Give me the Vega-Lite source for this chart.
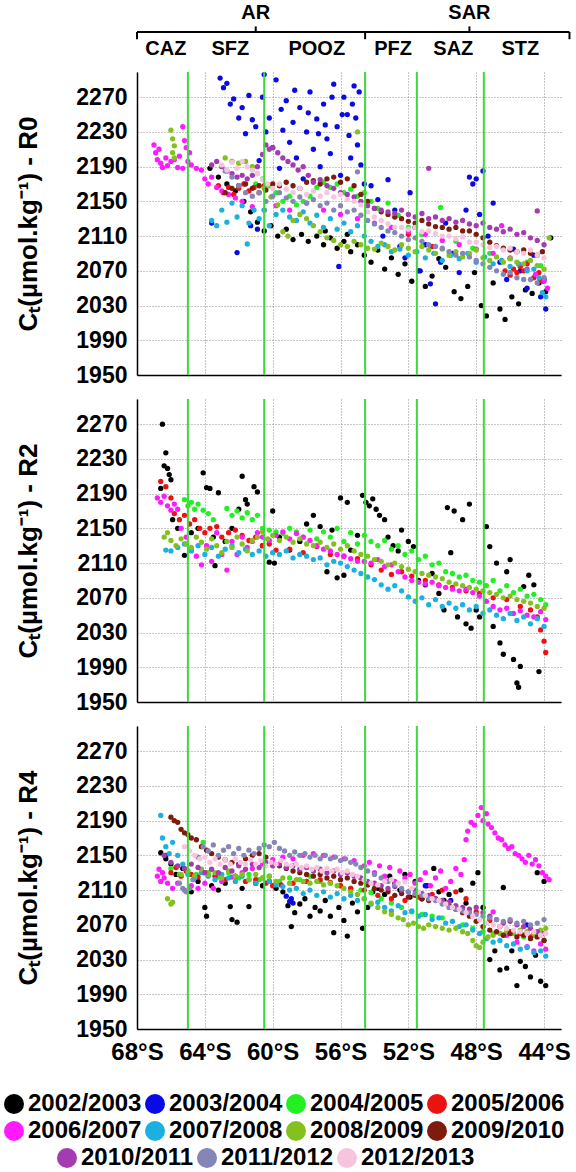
{
"$schema":"https://vega.github.io/schema/vega-lite/v6.json",
"background":"white",
"padding":{"left":2,"top":0,"right":0,"bottom":0},
"config":{"view":{"stroke":null},"font":"Liberation Sans",
"axis":{"labelFont":"Liberation Sans","titleFont":"Liberation Sans","labelColor":"black","titleColor":"black","domainColor":"black","domainWidth":1.5,"gridColor":"#8c8c8c","gridDash":[1,2],"gridWidth":1,"ticks":false,"labelFontSize":23,"labelFontWeight":"bold","titleFontSize":26,"titleFontWeight":"bold","labelOverlap":false,"labelFlush":false},
"legend":{"title":null,"orient":"none","direction":"horizontal","labelFontSize":24,"labelFontWeight":"bold","labelColor":"black","labelFont":"Liberation Sans","symbolType":"circle","symbolSize":400,"symbolStrokeWidth":0,"symbolOpacity":1,"labelOffset":2,"columnPadding":1,"rowPadding":3}},
"datasets":{
"years":[{"k":0,"season":"2002/2003"},{"k":1,"season":"2003/2004"},{"k":2,"season":"2004/2005"},{"k":3,"season":"2005/2006"},{"k":4,"season":"2006/2007"},{"k":5,"season":"2007/2008"},{"k":6,"season":"2008/2009"},{"k":7,"season":"2009/2010"},{"k":8,"season":"2010/2011"},{"k":9,"season":"2011/2012"},{"k":10,"season":"2012/2013"}],
"fronts":[{"x":65.0},{"x":60.5},{"x":54.55},{"x":51.5},{"x":47.55}],
"zones":[{"name":"CAZ","x":66.3,"t":1},{"name":"SFZ","x":62.5,"t":1},{"name":"POOZ","x":57.4,"t":1},{"name":"PFZ","x":52.9,"t":1},{"name":"SAZ","x":49.35,"t":1},{"name":"STZ","x":45.4,"t":1}],
"regions":[{"name":"AR","x":61.0,"t":3},{"name":"SAR","x":48.4,"t":3}],
"bracket":[{"x0":68,"x1":42.5,"t0":2,"t1":2},{"x0":68,"x1":68,"t0":2,"t1":1.55},{"x0":42.5,"x1":42.5,"t0":2,"t1":1.55},{"x0":54.55,"x1":54.55,"t0":2,"t1":1.55},{"x0":61.0,"x1":61.0,"t0":2,"t1":2.35},{"x0":48.4,"x1":48.4,"t0":2,"t1":2.35}],
"R0":[
{"k":0,"x":63.7,"c":2188},{"k":0,"x":63.2,"c":2178},{"k":0,"x":62.7,"c":2170},{"k":0,"x":62.2,"c":2162},{"k":0,"x":61.7,"c":2150},{"k":0,"x":61.3,"c":2138},{"k":0,"x":60.9,"c":2126},{"k":0,"x":60.5,"c":2116},{"k":0,"x":60.1,"c":2122},{"k":0,"x":59.7,"c":2110},{"k":0,"x":59.2,"c":2118},{"k":0,"x":58.8,"c":2106},{"k":0,"x":58.3,"c":2112},{"k":0,"x":57.9,"c":2104},{"k":0,"x":57.4,"c":2110},{"k":0,"x":57.0,"c":2100},{"k":0,"x":56.9,"c":2116},{"k":0,"x":56.6,"c":2108},{"k":0,"x":56.2,"c":2096},{"k":0,"x":55.8,"c":2104},{"k":0,"x":55.6,"c":2112},{"k":0,"x":55.4,"c":2092},{"k":0,"x":55.0,"c":2100},{"k":0,"x":54.6,"c":2088},{"k":0,"x":54.2,"c":2080},{"k":0,"x":53.8,"c":2094},{"k":0,"x":53.4,"c":2072},{"k":0,"x":53.0,"c":2085},{"k":0,"x":52.6,"c":2066},{"k":0,"x":52.2,"c":2078},{"k":0,"x":51.8,"c":2058},{"k":0,"x":51.4,"c":2070},{"k":0,"x":51.0,"c":2052},{"k":0,"x":50.6,"c":2064},{"k":0,"x":50.2,"c":2084},{"k":0,"x":49.8,"c":2074},{"k":0,"x":49.3,"c":2046},{"k":0,"x":48.9,"c":2038},{"k":0,"x":48.5,"c":2052},{"k":0,"x":48.1,"c":2068},{"k":0,"x":47.7,"c":2030},{"k":0,"x":47.4,"c":2018},{"k":0,"x":47.0,"c":2056},{"k":0,"x":46.6,"c":2026},{"k":0,"x":46.3,"c":2014},{"k":0,"x":45.9,"c":2040},{"k":0,"x":45.5,"c":2032},{"k":0,"x":45.1,"c":2048},{"k":0,"x":44.7,"c":2044},{"k":0,"x":44.3,"c":2056},{"k":0,"x":43.9,"c":2046},{"k":0,"x":43.6,"c":2108},
{"k":1,"x":63.6,"c":2125},{"k":1,"x":63.1,"c":2292},{"k":1,"x":62.9,"c":2281},{"k":1,"x":62.7,"c":2286},{"k":1,"x":62.5,"c":2262},{"k":1,"x":62.3,"c":2268},{"k":1,"x":62.1,"c":2091},{"k":1,"x":62.0,"c":2246},{"k":1,"x":61.8,"c":2258},{"k":1,"x":61.6,"c":2228},{"k":1,"x":61.4,"c":2272},{"k":1,"x":61.3,"c":2122},{"k":1,"x":61.2,"c":2244},{"k":1,"x":61.0,"c":2236},{"k":1,"x":60.9,"c":2118},{"k":1,"x":60.8,"c":2197},{"k":1,"x":60.6,"c":2270},{"k":1,"x":60.5,"c":2296},{"k":1,"x":60.4,"c":2230},{"k":1,"x":60.2,"c":2246},{"k":1,"x":60.0,"c":2212},{"k":1,"x":59.8,"c":2290},{"k":1,"x":59.6,"c":2188},{"k":1,"x":59.5,"c":2256},{"k":1,"x":59.4,"c":2232},{"k":1,"x":59.2,"c":2266},{"k":1,"x":59.0,"c":2218},{"k":1,"x":58.8,"c":2241},{"k":1,"x":58.7,"c":2278},{"k":1,"x":58.6,"c":2200},{"k":1,"x":58.4,"c":2258},{"k":1,"x":58.2,"c":2176},{"k":1,"x":58.0,"c":2230},{"k":1,"x":57.9,"c":2252},{"k":1,"x":57.8,"c":2276},{"k":1,"x":57.6,"c":2210},{"k":1,"x":57.4,"c":2245},{"k":1,"x":57.3,"c":2228},{"k":1,"x":57.2,"c":2190},{"k":1,"x":57.0,"c":2262},{"k":1,"x":56.9,"c":2238},{"k":1,"x":56.8,"c":2222},{"k":1,"x":56.6,"c":2205},{"k":1,"x":56.5,"c":2270},{"k":1,"x":56.4,"c":2285},{"k":1,"x":56.2,"c":2236},{"k":1,"x":56.1,"c":2075},{"k":1,"x":56.0,"c":2180},{"k":1,"x":55.9,"c":2250},{"k":1,"x":55.8,"c":2270},{"k":1,"x":55.6,"c":2250},{"k":1,"x":55.5,"c":2226},{"k":1,"x":55.4,"c":2200},{"k":1,"x":55.3,"c":2262},{"k":1,"x":55.2,"c":2283},{"k":1,"x":55.1,"c":2246},{"k":1,"x":55.0,"c":2215},{"k":1,"x":54.9,"c":2276},{"k":1,"x":54.8,"c":2192},{"k":1,"x":54.6,"c":2170},{"k":1,"x":54.2,"c":2168},{"k":1,"x":53.8,"c":2152},{"k":1,"x":53.5,"c":2110},{"k":1,"x":53.2,"c":2175},{"k":1,"x":52.8,"c":2140},{"k":1,"x":52.5,"c":2098},{"k":1,"x":52.2,"c":2085},{"k":1,"x":51.9,"c":2160},{"k":1,"x":51.6,"c":2120},{"k":1,"x":51.3,"c":2070},{"k":1,"x":51.0,"c":2100},{"k":1,"x":50.7,"c":2055},{"k":1,"x":50.4,"c":2032},{"k":1,"x":50.1,"c":2080},{"k":1,"x":49.8,"c":2125},{"k":1,"x":49.4,"c":2090},{"k":1,"x":49.0,"c":2068},{"k":1,"x":48.6,"c":2140},{"k":1,"x":48.4,"c":2178},{"k":1,"x":48.2,"c":2170},{"k":1,"x":48.0,"c":2176},{"k":1,"x":47.8,"c":2135},{"k":1,"x":47.6,"c":2185},{"k":1,"x":47.3,"c":2110},{"k":1,"x":47.0,"c":2148},{"k":1,"x":46.6,"c":2080},{"k":1,"x":46.2,"c":2060},{"k":1,"x":45.8,"c":2095},{"k":1,"x":45.4,"c":2070},{"k":1,"x":45.0,"c":2050},{"k":1,"x":44.6,"c":2088},{"k":1,"x":44.2,"c":2040},{"k":1,"x":44.0,"c":2060},{"k":1,"x":43.9,"c":2026},
{"k":2,"x":61.0,"c":2170},{"k":2,"x":60.6,"c":2176},{"k":2,"x":60.2,"c":2168},{"k":2,"x":59.8,"c":2160},{"k":2,"x":59.4,"c":2150},{"k":2,"x":59.0,"c":2156},{"k":2,"x":58.6,"c":2146},{"k":2,"x":58.2,"c":2150},{"k":2,"x":57.8,"c":2156},{"k":2,"x":57.4,"c":2166},{"k":2,"x":57.0,"c":2172},{"k":2,"x":56.6,"c":2166},{"k":2,"x":56.2,"c":2170},{"k":2,"x":55.8,"c":2160},{"k":2,"x":55.4,"c":2164},{"k":2,"x":55.0,"c":2156},{"k":2,"x":54.6,"c":2160},{"k":2,"x":54.2,"c":2150},{"k":2,"x":53.8,"c":2142},{"k":2,"x":53.2,"c":2148},{"k":2,"x":52.6,"c":2134},{"k":2,"x":52.0,"c":2120},{"k":2,"x":51.2,"c":2112},{"k":2,"x":50.1,"c":2143},{"k":2,"x":49.2,"c":2104},{"k":2,"x":48.2,"c":2096},{"k":2,"x":47.2,"c":2090},{"k":2,"x":46.0,"c":2084},{"k":2,"x":45.0,"c":2080},{"k":2,"x":44.2,"c":2076},
{"k":3,"x":63.2,"c":2168},{"k":3,"x":62.9,"c":2160},{"k":3,"x":62.6,"c":2166},{"k":3,"x":62.3,"c":2158},{"k":3,"x":62.0,"c":2165},{"k":3,"x":61.7,"c":2170},{"k":3,"x":61.4,"c":2162},{"k":3,"x":61.1,"c":2166},{"k":3,"x":60.8,"c":2160},{"k":3,"x":60.5,"c":2168},{"k":3,"x":52.0,"c":2112},{"k":3,"x":50.6,"c":2098},{"k":3,"x":46.3,"c":2070},{"k":3,"x":46.0,"c":2065},{"k":3,"x":45.8,"c":2072},{"k":3,"x":45.6,"c":2068},{"k":3,"x":45.4,"c":2075},{"k":3,"x":45.2,"c":2070},{"k":3,"x":45.0,"c":2078},{"k":3,"x":44.6,"c":2062},{"k":3,"x":44.3,"c":2068},{"k":3,"x":44.1,"c":2058},
{"k":4,"x":67.0,"c":2215},{"k":4,"x":66.9,"c":2206},{"k":4,"x":66.8,"c":2198},{"k":4,"x":66.7,"c":2210},{"k":4,"x":66.6,"c":2194},{"k":4,"x":66.5,"c":2189},{"k":4,"x":66.3,"c":2200},{"k":4,"x":66.2,"c":2191},{"k":4,"x":66.0,"c":2196},{"k":4,"x":65.8,"c":2198},{"k":4,"x":65.6,"c":2189},{"k":4,"x":65.5,"c":2202},{"k":4,"x":65.3,"c":2236},{"k":4,"x":65.3,"c":2188},{"k":4,"x":65.2,"c":2220},{"k":4,"x":65.1,"c":2212},{"k":4,"x":65.0,"c":2196},{"k":4,"x":64.9,"c":2206},{"k":4,"x":64.8,"c":2192},{"k":4,"x":64.5,"c":2188},{"k":4,"x":64.2,"c":2186},{"k":4,"x":64.0,"c":2176},{"k":4,"x":63.8,"c":2170},{"k":4,"x":63.6,"c":2178},{"k":4,"x":63.3,"c":2166},{"k":4,"x":63.0,"c":2162},{"k":4,"x":62.6,"c":2158},{"k":4,"x":62.2,"c":2154},{"k":4,"x":61.8,"c":2150},{"k":4,"x":61.2,"c":2144},{"k":4,"x":60.5,"c":2140},{"k":4,"x":59.8,"c":2145},{"k":4,"x":59.0,"c":2140},{"k":4,"x":58.0,"c":2148},{"k":4,"x":57.0,"c":2140},{"k":4,"x":56.0,"c":2135},{"k":4,"x":55.0,"c":2130},{"k":4,"x":54.0,"c":2125},{"k":4,"x":53.0,"c":2120},{"k":4,"x":52.0,"c":2115},{"k":4,"x":51.0,"c":2112},{"k":4,"x":50.0,"c":2105},{"k":4,"x":49.0,"c":2100},{"k":4,"x":48.0,"c":2095},{"k":4,"x":47.0,"c":2090},{"k":4,"x":46.5,"c":2122},{"k":4,"x":46.0,"c":2085},{"k":4,"x":45.5,"c":2078},{"k":4,"x":45.0,"c":2072},{"k":4,"x":44.5,"c":2066},{"k":4,"x":44.0,"c":2058},{"k":4,"x":43.8,"c":2050},
{"k":5,"x":63.6,"c":2128},{"k":5,"x":63.3,"c":2122},{"k":5,"x":63.0,"c":2140},{"k":5,"x":62.7,"c":2126},{"k":5,"x":62.4,"c":2148},{"k":5,"x":62.1,"c":2132},{"k":5,"x":61.8,"c":2145},{"k":5,"x":61.5,"c":2101},{"k":5,"x":61.4,"c":2125},{"k":5,"x":61.1,"c":2140},{"k":5,"x":60.8,"c":2130},{"k":5,"x":60.5,"c":2140},{"k":5,"x":60.2,"c":2122},{"k":5,"x":59.8,"c":2135},{"k":5,"x":59.4,"c":2140},{"k":5,"x":59.0,"c":2132},{"k":5,"x":58.6,"c":2128},{"k":5,"x":58.2,"c":2138},{"k":5,"x":57.8,"c":2125},{"k":5,"x":57.4,"c":2134},{"k":5,"x":57.0,"c":2120},{"k":5,"x":56.6,"c":2130},{"k":5,"x":56.2,"c":2118},{"k":5,"x":55.8,"c":2125},{"k":5,"x":55.4,"c":2115},{"k":5,"x":55.0,"c":2122},{"k":5,"x":54.6,"c":2110},{"k":5,"x":54.2,"c":2104},{"k":5,"x":53.8,"c":2098},{"k":5,"x":53.4,"c":2100},{"k":5,"x":53.0,"c":2092},{"k":5,"x":52.5,"c":2095},{"k":5,"x":52.0,"c":2088},{"k":5,"x":51.5,"c":2092},{"k":5,"x":51.0,"c":2085},{"k":5,"x":50.5,"c":2090},{"k":5,"x":50.0,"c":2082},{"k":5,"x":49.5,"c":2088},{"k":5,"x":49.0,"c":2084},{"k":5,"x":48.5,"c":2090},{"k":5,"x":48.0,"c":2080},{"k":5,"x":47.5,"c":2086},{"k":5,"x":47.0,"c":2078},{"k":5,"x":46.5,"c":2082},{"k":5,"x":46.0,"c":2075},{"k":5,"x":45.5,"c":2078},{"k":5,"x":45.0,"c":2070},{"k":5,"x":44.6,"c":2072},{"k":5,"x":44.3,"c":2062},{"k":5,"x":44.1,"c":2045},{"k":5,"x":43.9,"c":2040},
{"k":6,"x":66.0,"c":2232},{"k":6,"x":65.9,"c":2222},{"k":6,"x":65.9,"c":2206},{"k":6,"x":65.8,"c":2214},{"k":6,"x":65.8,"c":2200},{"k":6,"x":62.8,"c":2200},{"k":6,"x":62.4,"c":2196},{"k":6,"x":62.0,"c":2194},{"k":6,"x":61.6,"c":2196},{"k":6,"x":61.2,"c":2190},{"k":6,"x":60.9,"c":2182},{"k":6,"x":60.5,"c":2165},{"k":6,"x":60.1,"c":2155},{"k":6,"x":59.7,"c":2146},{"k":6,"x":59.4,"c":2115},{"k":6,"x":59.1,"c":2110},{"k":6,"x":58.8,"c":2128},{"k":6,"x":58.4,"c":2135},{"k":6,"x":58.0,"c":2130},{"k":6,"x":57.6,"c":2122},{"k":6,"x":57.2,"c":2115},{"k":6,"x":56.8,"c":2108},{"k":6,"x":56.4,"c":2105},{"k":6,"x":56.0,"c":2100},{"k":6,"x":55.6,"c":2098},{"k":6,"x":55.2,"c":2104},{"k":6,"x":55.0,"c":2230},{"k":6,"x":54.8,"c":2100},{"k":6,"x":54.4,"c":2096},{"k":6,"x":54.0,"c":2095},{"k":6,"x":53.6,"c":2102},{"k":6,"x":53.2,"c":2098},{"k":6,"x":52.8,"c":2094},{"k":6,"x":52.4,"c":2100},{"k":6,"x":52.0,"c":2096},{"k":6,"x":51.6,"c":2092},{"k":6,"x":51.2,"c":2098},{"k":6,"x":50.8,"c":2094},{"k":6,"x":50.4,"c":2090},{"k":6,"x":50.0,"c":2095},{"k":6,"x":49.6,"c":2088},{"k":6,"x":49.2,"c":2092},{"k":6,"x":48.8,"c":2086},{"k":6,"x":48.4,"c":2090},{"k":6,"x":48.0,"c":2094},{"k":6,"x":47.6,"c":2085},{"k":6,"x":47.2,"c":2082},{"k":6,"x":46.8,"c":2086},{"k":6,"x":46.4,"c":2080},{"k":6,"x":46.0,"c":2084},{"k":6,"x":45.6,"c":2080},{"k":6,"x":45.2,"c":2078},{"k":6,"x":44.8,"c":2082},{"k":6,"x":44.4,"c":2076},{"k":6,"x":44.0,"c":2072},{"k":6,"x":43.7,"c":2108},
{"k":7,"x":62.8,"c":2160},{"k":7,"x":62.4,"c":2165},{"k":7,"x":62.0,"c":2168},{"k":7,"x":61.6,"c":2170},{"k":7,"x":61.2,"c":2165},{"k":7,"x":60.8,"c":2168},{"k":7,"x":60.4,"c":2163},{"k":7,"x":60.0,"c":2170},{"k":7,"x":59.6,"c":2168},{"k":7,"x":59.2,"c":2172},{"k":7,"x":58.8,"c":2168},{"k":7,"x":58.4,"c":2165},{"k":7,"x":58.0,"c":2172},{"k":7,"x":57.6,"c":2174},{"k":7,"x":57.2,"c":2170},{"k":7,"x":56.8,"c":2176},{"k":7,"x":56.4,"c":2178},{"k":7,"x":56.0,"c":2172},{"k":7,"x":55.6,"c":2176},{"k":7,"x":55.2,"c":2168},{"k":7,"x":54.8,"c":2158},{"k":7,"x":54.4,"c":2150},{"k":7,"x":54.0,"c":2142},{"k":7,"x":53.6,"c":2138},{"k":7,"x":53.2,"c":2135},{"k":7,"x":52.8,"c":2132},{"k":7,"x":52.4,"c":2130},{"k":7,"x":52.0,"c":2127},{"k":7,"x":51.6,"c":2125},{"k":7,"x":51.2,"c":2128},{"k":7,"x":50.8,"c":2124},{"k":7,"x":50.4,"c":2121},{"k":7,"x":50.0,"c":2120},{"k":7,"x":49.6,"c":2118},{"k":7,"x":49.2,"c":2120},{"k":7,"x":48.8,"c":2116},{"k":7,"x":48.4,"c":2116},{"k":7,"x":48.0,"c":2112},{"k":7,"x":47.6,"c":2108},{"k":7,"x":47.2,"c":2103},{"k":7,"x":46.8,"c":2099},{"k":7,"x":46.4,"c":2096},{"k":7,"x":46.0,"c":2094},{"k":7,"x":45.6,"c":2092},{"k":7,"x":45.2,"c":2094},{"k":7,"x":44.8,"c":2090},{"k":7,"x":44.4,"c":2088},{"k":7,"x":44.1,"c":2092},
{"k":8,"x":63.6,"c":2192},{"k":8,"x":63.3,"c":2196},{"k":8,"x":63.0,"c":2190},{"k":8,"x":62.7,"c":2185},{"k":8,"x":62.4,"c":2182},{"k":8,"x":62.1,"c":2178},{"k":8,"x":61.8,"c":2180},{"k":8,"x":61.5,"c":2176},{"k":8,"x":61.2,"c":2180},{"k":8,"x":60.9,"c":2190},{"k":8,"x":60.6,"c":2204},{"k":8,"x":60.4,"c":2215},{"k":8,"x":60.2,"c":2210},{"k":8,"x":60.0,"c":2212},{"k":8,"x":59.7,"c":2206},{"k":8,"x":59.4,"c":2200},{"k":8,"x":59.1,"c":2196},{"k":8,"x":58.8,"c":2192},{"k":8,"x":58.5,"c":2186},{"k":8,"x":58.2,"c":2190},{"k":8,"x":57.9,"c":2180},{"k":8,"x":57.6,"c":2172},{"k":8,"x":57.2,"c":2175},{"k":8,"x":56.8,"c":2168},{"k":8,"x":56.4,"c":2165},{"k":8,"x":56.0,"c":2160},{"k":8,"x":55.6,"c":2158},{"k":8,"x":55.2,"c":2155},{"k":8,"x":54.8,"c":2150},{"k":8,"x":54.4,"c":2145},{"k":8,"x":54.0,"c":2142},{"k":8,"x":53.6,"c":2140},{"k":8,"x":53.2,"c":2138},{"k":8,"x":52.8,"c":2136},{"k":8,"x":52.4,"c":2140},{"k":8,"x":52.0,"c":2135},{"k":8,"x":51.6,"c":2132},{"k":8,"x":51.2,"c":2136},{"k":8,"x":50.8,"c":2188},{"k":8,"x":50.8,"c":2130},{"k":8,"x":50.4,"c":2132},{"k":8,"x":50.0,"c":2128},{"k":8,"x":49.6,"c":2130},{"k":8,"x":49.2,"c":2126},{"k":8,"x":48.8,"c":2128},{"k":8,"x":48.4,"c":2124},{"k":8,"x":48.0,"c":2122},{"k":8,"x":47.6,"c":2125},{"k":8,"x":47.2,"c":2120},{"k":8,"x":46.8,"c":2118},{"k":8,"x":46.4,"c":2115},{"k":8,"x":46.0,"c":2118},{"k":8,"x":45.6,"c":2112},{"k":8,"x":45.2,"c":2114},{"k":8,"x":44.8,"c":2108},{"k":8,"x":44.4,"c":2139},{"k":8,"x":44.4,"c":2105},{"k":8,"x":44.0,"c":2100},
{"k":9,"x":62.8,"c":2185},{"k":9,"x":62.4,"c":2178},{"k":9,"x":62.0,"c":2168},{"k":9,"x":61.6,"c":2160},{"k":9,"x":61.2,"c":2156},{"k":9,"x":60.8,"c":2160},{"k":9,"x":60.4,"c":2150},{"k":9,"x":60.0,"c":2156},{"k":9,"x":59.6,"c":2160},{"k":9,"x":59.2,"c":2154},{"k":9,"x":58.8,"c":2150},{"k":9,"x":58.4,"c":2155},{"k":9,"x":58.0,"c":2148},{"k":9,"x":57.6,"c":2152},{"k":9,"x":57.2,"c":2145},{"k":9,"x":56.8,"c":2148},{"k":9,"x":56.4,"c":2140},{"k":9,"x":56.0,"c":2145},{"k":9,"x":55.6,"c":2138},{"k":9,"x":55.2,"c":2140},{"k":9,"x":55.0,"c":2184},{"k":9,"x":54.8,"c":2134},{"k":9,"x":54.4,"c":2128},{"k":9,"x":54.0,"c":2124},{"k":9,"x":53.6,"c":2120},{"k":9,"x":53.2,"c":2116},{"k":9,"x":52.8,"c":2114},{"k":9,"x":52.4,"c":2110},{"k":9,"x":52.0,"c":2106},{"k":9,"x":51.6,"c":2108},{"k":9,"x":51.2,"c":2104},{"k":9,"x":50.8,"c":2100},{"k":9,"x":50.4,"c":2098},{"k":9,"x":50.0,"c":2096},{"k":9,"x":49.6,"c":2092},{"k":9,"x":49.2,"c":2088},{"k":9,"x":48.8,"c":2090},{"k":9,"x":48.4,"c":2086},{"k":9,"x":48.0,"c":2082},{"k":9,"x":47.6,"c":2078},{"k":9,"x":47.2,"c":2074},{"k":9,"x":46.8,"c":2070},{"k":9,"x":46.4,"c":2066},{"k":9,"x":46.0,"c":2068},{"k":9,"x":45.6,"c":2062},{"k":9,"x":45.2,"c":2060},{"k":9,"x":44.8,"c":2060},{"k":9,"x":44.4,"c":2056},{"k":9,"x":44.0,"c":2062},
{"k":10,"x":63.0,"c":2192},{"k":10,"x":62.7,"c":2186},{"k":10,"x":62.4,"c":2195},{"k":10,"x":62.1,"c":2188},{"k":10,"x":61.8,"c":2196},{"k":10,"x":61.5,"c":2190},{"k":10,"x":61.2,"c":2186},{"k":10,"x":60.9,"c":2182},{"k":10,"x":60.6,"c":2175},{"k":10,"x":60.3,"c":2170},{"k":10,"x":60.0,"c":2165},{"k":10,"x":59.6,"c":2170},{"k":10,"x":59.2,"c":2164},{"k":10,"x":58.8,"c":2160},{"k":10,"x":58.4,"c":2165},{"k":10,"x":58.0,"c":2158},{"k":10,"x":57.6,"c":2162},{"k":10,"x":57.2,"c":2156},{"k":10,"x":56.8,"c":2160},{"k":10,"x":56.4,"c":2155},{"k":10,"x":56.0,"c":2158},{"k":10,"x":55.6,"c":2152},{"k":10,"x":55.2,"c":2150},{"k":10,"x":54.8,"c":2146},{"k":10,"x":54.4,"c":2138},{"k":10,"x":54.0,"c":2132},{"k":10,"x":53.6,"c":2128},{"k":10,"x":53.2,"c":2124},{"k":10,"x":52.8,"c":2120},{"k":10,"x":52.4,"c":2120},{"k":10,"x":52.0,"c":2118},{"k":10,"x":51.6,"c":2120},{"k":10,"x":51.2,"c":2115},{"k":10,"x":50.8,"c":2116},{"k":10,"x":50.4,"c":2113},{"k":10,"x":50.0,"c":2110},{"k":10,"x":49.6,"c":2110},{"k":10,"x":49.2,"c":2107},{"k":10,"x":48.8,"c":2109},{"k":10,"x":48.4,"c":2103},{"k":10,"x":48.0,"c":2103},{"k":10,"x":47.6,"c":2100},{"k":10,"x":47.2,"c":2097},{"k":10,"x":46.8,"c":2098},{"k":10,"x":46.4,"c":2094},{"k":10,"x":46.0,"c":2096},{"k":10,"x":45.6,"c":2092},{"k":10,"x":45.2,"c":2090},{"k":10,"x":44.8,"c":2094},{"k":10,"x":44.4,"c":2088},{"k":10,"x":44.0,"c":2085}
],
"R2":[
{"k":0,"x":66.5,"c":2270},{"k":0,"x":66.4,"c":2222},{"k":0,"x":66.3,"c":2237},{"k":0,"x":66.2,"c":2219},{"k":0,"x":66.1,"c":2212},{"k":0,"x":66.0,"c":2206},{"k":0,"x":66.6,"c":2196},{"k":0,"x":65.9,"c":2160},{"k":0,"x":65.6,"c":2150},{"k":0,"x":65.2,"c":2119},{"k":0,"x":64.8,"c":2145},{"k":0,"x":64.4,"c":2150},{"k":0,"x":64.1,"c":2214},{"k":0,"x":63.9,"c":2197},{"k":0,"x":63.7,"c":2196},{"k":0,"x":63.5,"c":2140},{"k":0,"x":63.4,"c":2107},{"k":0,"x":63.2,"c":2191},{"k":0,"x":62.8,"c":2135},{"k":0,"x":62.4,"c":2150},{"k":0,"x":62.0,"c":2172},{"k":0,"x":61.8,"c":2210},{"k":0,"x":61.6,"c":2183},{"k":0,"x":61.5,"c":2178},{"k":0,"x":61.1,"c":2198},{"k":0,"x":60.9,"c":2192},{"k":0,"x":60.6,"c":2130},{"k":0,"x":60.2,"c":2111},{"k":0,"x":60.0,"c":2170},{"k":0,"x":59.9,"c":2110},{"k":0,"x":59.6,"c":2140},{"k":0,"x":59.0,"c":2125},{"k":0,"x":58.4,"c":2135},{"k":0,"x":58.0,"c":2155},{"k":0,"x":57.6,"c":2165},{"k":0,"x":57.2,"c":2152},{"k":0,"x":56.8,"c":2100},{"k":0,"x":56.5,"c":2148},{"k":0,"x":56.2,"c":2093},{"k":0,"x":56.0,"c":2185},{"k":0,"x":55.8,"c":2096},{"k":0,"x":55.6,"c":2180},{"k":0,"x":55.4,"c":2125},{"k":0,"x":55.0,"c":2142},{"k":0,"x":54.7,"c":2188},{"k":0,"x":54.5,"c":2180},{"k":0,"x":54.3,"c":2176},{"k":0,"x":54.1,"c":2184},{"k":0,"x":53.9,"c":2172},{"k":0,"x":53.7,"c":2165},{"k":0,"x":53.4,"c":2160},{"k":0,"x":53.2,"c":2140},{"k":0,"x":52.9,"c":2130},{"k":0,"x":52.6,"c":2124},{"k":0,"x":52.4,"c":2148},{"k":0,"x":52.0,"c":2135},{"k":0,"x":51.7,"c":2129},{"k":0,"x":51.4,"c":2090},{"k":0,"x":51.0,"c":2085},{"k":0,"x":50.6,"c":2098},{"k":0,"x":50.2,"c":2075},{"k":0,"x":49.9,"c":2056},{"k":0,"x":49.7,"c":2174},{"k":0,"x":49.5,"c":2122},{"k":0,"x":49.3,"c":2170},{"k":0,"x":49.1,"c":2048},{"k":0,"x":48.8,"c":2160},{"k":0,"x":48.6,"c":2040},{"k":0,"x":48.4,"c":2178},{"k":0,"x":48.3,"c":2035},{"k":0,"x":48.0,"c":2056},{"k":0,"x":47.8,"c":2048},{"k":0,"x":47.4,"c":2152},{"k":0,"x":47.2,"c":2129},{"k":0,"x":47.0,"c":2037},{"k":0,"x":46.8,"c":2110},{"k":0,"x":46.6,"c":2018},{"k":0,"x":46.4,"c":2005},{"k":0,"x":46.2,"c":2100},{"k":0,"x":46.0,"c":2114},{"k":0,"x":45.8,"c":1999},{"k":0,"x":45.6,"c":1972},{"k":0,"x":45.5,"c":1967},{"k":0,"x":45.4,"c":1991},{"k":0,"x":45.2,"c":2083},{"k":0,"x":44.9,"c":2096},{"k":0,"x":44.6,"c":2085},{"k":0,"x":44.3,"c":1985},
{"k":2,"x":65.2,"c":2183},{"k":2,"x":65.0,"c":2176},{"k":2,"x":64.8,"c":2180},{"k":2,"x":64.6,"c":2172},{"k":2,"x":64.4,"c":2178},{"k":2,"x":64.1,"c":2171},{"k":2,"x":63.8,"c":2167},{"k":2,"x":63.5,"c":2160},{"k":2,"x":62.7,"c":2173},{"k":2,"x":62.4,"c":2165},{"k":2,"x":62.1,"c":2170},{"k":2,"x":61.8,"c":2162},{"k":2,"x":61.5,"c":2168},{"k":2,"x":61.2,"c":2160},{"k":2,"x":60.9,"c":2165},{"k":2,"x":60.6,"c":2150},{"k":2,"x":60.2,"c":2148},{"k":2,"x":59.8,"c":2146},{"k":2,"x":59.4,"c":2144},{"k":2,"x":59.0,"c":2150},{"k":2,"x":58.6,"c":2146},{"k":2,"x":58.2,"c":2140},{"k":2,"x":57.8,"c":2148},{"k":2,"x":57.4,"c":2138},{"k":2,"x":57.0,"c":2146},{"k":2,"x":56.6,"c":2140},{"k":2,"x":56.2,"c":2150},{"k":2,"x":55.8,"c":2135},{"k":2,"x":55.4,"c":2145},{"k":2,"x":55.0,"c":2132},{"k":2,"x":54.6,"c":2142},{"k":2,"x":54.2,"c":2135},{"k":2,"x":53.8,"c":2130},{"k":2,"x":53.4,"c":2136},{"k":2,"x":53.0,"c":2126},{"k":2,"x":52.6,"c":2130},{"k":2,"x":52.2,"c":2120},{"k":2,"x":51.8,"c":2124},{"k":2,"x":51.4,"c":2114},{"k":2,"x":51.0,"c":2118},{"k":2,"x":50.6,"c":2108},{"k":2,"x":50.2,"c":2110},{"k":2,"x":49.8,"c":2100},{"k":2,"x":49.4,"c":2098},{"k":2,"x":49.0,"c":2094},{"k":2,"x":48.6,"c":2096},{"k":2,"x":48.2,"c":2090},{"k":2,"x":47.8,"c":2088},{"k":2,"x":47.4,"c":2084},{"k":2,"x":47.0,"c":2090},{"k":2,"x":46.6,"c":2078},{"k":2,"x":46.2,"c":2084},{"k":2,"x":45.8,"c":2076},{"k":2,"x":45.4,"c":2080},{"k":2,"x":45.0,"c":2072},{"k":2,"x":44.6,"c":2074},{"k":2,"x":44.2,"c":2068},{"k":2,"x":43.9,"c":2062},
{"k":3,"x":66.6,"c":2204},{"k":3,"x":66.3,"c":2198},{"k":3,"x":66.0,"c":2185},{"k":3,"x":65.8,"c":2167},{"k":3,"x":65.5,"c":2160},{"k":3,"x":65.2,"c":2165},{"k":3,"x":64.9,"c":2155},{"k":3,"x":64.6,"c":2160},{"k":3,"x":64.3,"c":2150},{"k":3,"x":64.0,"c":2145},{"k":3,"x":63.7,"c":2150},{"k":3,"x":63.3,"c":2152},{"k":3,"x":63.0,"c":2140},{"k":3,"x":62.6,"c":2145},{"k":3,"x":62.2,"c":2148},{"k":3,"x":61.8,"c":2142},{"k":3,"x":61.4,"c":2136},{"k":3,"x":61.0,"c":2140},{"k":3,"x":60.6,"c":2130},{"k":3,"x":60.2,"c":2132},{"k":3,"x":59.8,"c":2125},{"k":3,"x":59.0,"c":2126},{"k":3,"x":58.2,"c":2122},{"k":3,"x":57.4,"c":2129},{"k":3,"x":56.6,"c":2120},{"k":3,"x":55.8,"c":2118},{"k":3,"x":55.0,"c":2115},{"k":3,"x":54.2,"c":2108},{"k":3,"x":53.6,"c":2102},{"k":3,"x":53.0,"c":2097},{"k":3,"x":52.4,"c":2100},{"k":3,"x":51.8,"c":2095},{"k":3,"x":51.0,"c":2090},{"k":3,"x":50.2,"c":2085},{"k":3,"x":49.4,"c":2082},{"k":3,"x":48.6,"c":2078},{"k":3,"x":47.8,"c":2075},{"k":3,"x":47.0,"c":2070},{"k":3,"x":46.2,"c":2068},{"k":3,"x":45.4,"c":2060},{"k":3,"x":44.8,"c":2056},{"k":3,"x":44.4,"c":2048},{"k":3,"x":44.2,"c":2033},{"k":3,"x":44.0,"c":2020},{"k":3,"x":43.9,"c":2007},
{"k":4,"x":66.8,"c":2185},{"k":4,"x":66.6,"c":2180},{"k":4,"x":66.4,"c":2187},{"k":4,"x":66.2,"c":2176},{"k":4,"x":66.0,"c":2171},{"k":4,"x":65.8,"c":2178},{"k":4,"x":65.6,"c":2172},{"k":4,"x":65.4,"c":2150},{"k":4,"x":65.1,"c":2140},{"k":4,"x":64.8,"c":2125},{"k":4,"x":64.5,"c":2118},{"k":4,"x":64.2,"c":2108},{"k":4,"x":63.9,"c":2130},{"k":4,"x":63.6,"c":2112},{"k":4,"x":63.3,"c":2145},{"k":4,"x":63.0,"c":2120},{"k":4,"x":62.7,"c":2102},{"k":4,"x":62.4,"c":2135},{"k":4,"x":62.1,"c":2120},{"k":4,"x":61.8,"c":2140},{"k":4,"x":61.5,"c":2128},{"k":4,"x":61.2,"c":2135},{"k":4,"x":60.9,"c":2145},{"k":4,"x":60.6,"c":2140},{"k":4,"x":60.2,"c":2136},{"k":4,"x":59.8,"c":2142},{"k":4,"x":59.4,"c":2146},{"k":4,"x":59.0,"c":2138},{"k":4,"x":58.6,"c":2144},{"k":4,"x":58.2,"c":2140},{"k":4,"x":57.8,"c":2136},{"k":4,"x":57.4,"c":2130},{"k":4,"x":57.0,"c":2126},{"k":4,"x":56.6,"c":2124},{"k":4,"x":56.2,"c":2120},{"k":4,"x":55.8,"c":2118},{"k":4,"x":55.4,"c":2115},{"k":4,"x":55.0,"c":2112},{"k":4,"x":54.6,"c":2112},{"k":4,"x":54.2,"c":2110},{"k":4,"x":53.8,"c":2114},{"k":4,"x":53.4,"c":2106},{"k":4,"x":53.0,"c":2108},{"k":4,"x":52.6,"c":2100},{"k":4,"x":52.2,"c":2094},{"k":4,"x":51.8,"c":2090},{"k":4,"x":51.4,"c":2088},{"k":4,"x":51.0,"c":2086},{"k":4,"x":50.6,"c":2088},{"k":4,"x":50.2,"c":2084},{"k":4,"x":49.8,"c":2082},{"k":4,"x":49.4,"c":2080},{"k":4,"x":49.0,"c":2078},{"k":4,"x":48.6,"c":2080},{"k":4,"x":48.2,"c":2076},{"k":4,"x":47.8,"c":2072},{"k":4,"x":47.4,"c":2066},{"k":4,"x":47.0,"c":2060},{"k":4,"x":46.6,"c":2056},{"k":4,"x":46.2,"c":2058},{"k":4,"x":45.8,"c":2052},{"k":4,"x":45.4,"c":2055},{"k":4,"x":45.0,"c":2050},{"k":4,"x":44.6,"c":2048},{"k":4,"x":44.2,"c":2054},{"k":4,"x":43.9,"c":2045},
{"k":5,"x":66.3,"c":2125},{"k":5,"x":66.0,"c":2124},{"k":5,"x":65.6,"c":2128},{"k":5,"x":65.2,"c":2132},{"k":5,"x":64.8,"c":2124},{"k":5,"x":64.4,"c":2130},{"k":5,"x":64.0,"c":2120},{"k":5,"x":63.6,"c":2128},{"k":5,"x":63.2,"c":2118},{"k":5,"x":62.8,"c":2126},{"k":5,"x":62.4,"c":2130},{"k":5,"x":62.0,"c":2122},{"k":5,"x":61.6,"c":2126},{"k":5,"x":61.2,"c":2120},{"k":5,"x":60.8,"c":2124},{"k":5,"x":60.4,"c":2118},{"k":5,"x":60.0,"c":2122},{"k":5,"x":59.6,"c":2120},{"k":5,"x":59.2,"c":2124},{"k":5,"x":58.8,"c":2116},{"k":5,"x":58.4,"c":2120},{"k":5,"x":58.0,"c":2118},{"k":5,"x":57.6,"c":2114},{"k":5,"x":57.2,"c":2116},{"k":5,"x":56.8,"c":2108},{"k":5,"x":56.4,"c":2112},{"k":5,"x":56.0,"c":2110},{"k":5,"x":55.6,"c":2106},{"k":5,"x":55.2,"c":2102},{"k":5,"x":54.8,"c":2098},{"k":5,"x":54.4,"c":2094},{"k":5,"x":54.0,"c":2091},{"k":5,"x":53.6,"c":2085},{"k":5,"x":53.2,"c":2080},{"k":5,"x":52.8,"c":2084},{"k":5,"x":52.4,"c":2078},{"k":5,"x":52.0,"c":2071},{"k":5,"x":51.6,"c":2066},{"k":5,"x":51.2,"c":2070},{"k":5,"x":50.8,"c":2062},{"k":5,"x":50.4,"c":2068},{"k":5,"x":50.0,"c":2060},{"k":5,"x":49.6,"c":2064},{"k":5,"x":49.2,"c":2058},{"k":5,"x":48.8,"c":2062},{"k":5,"x":48.4,"c":2056},{"k":5,"x":48.0,"c":2060},{"k":5,"x":47.6,"c":2052},{"k":5,"x":47.2,"c":2056},{"k":5,"x":46.8,"c":2050},{"k":5,"x":46.4,"c":2046},{"k":5,"x":46.0,"c":2052},{"k":5,"x":45.6,"c":2044},{"k":5,"x":45.2,"c":2048},{"k":5,"x":44.8,"c":2040},{"k":5,"x":44.4,"c":2046},{"k":5,"x":44.0,"c":2037},
{"k":6,"x":66.4,"c":2140},{"k":6,"x":66.2,"c":2145},{"k":6,"x":66.0,"c":2136},{"k":6,"x":65.7,"c":2130},{"k":6,"x":65.4,"c":2138},{"k":6,"x":65.1,"c":2132},{"k":6,"x":64.8,"c":2128},{"k":6,"x":64.5,"c":2140},{"k":6,"x":64.2,"c":2134},{"k":6,"x":63.9,"c":2126},{"k":6,"x":63.6,"c":2138},{"k":6,"x":63.3,"c":2130},{"k":6,"x":63.0,"c":2122},{"k":6,"x":62.7,"c":2135},{"k":6,"x":62.4,"c":2128},{"k":6,"x":62.1,"c":2140},{"k":6,"x":61.8,"c":2132},{"k":6,"x":61.5,"c":2124},{"k":6,"x":61.2,"c":2136},{"k":6,"x":60.9,"c":2140},{"k":6,"x":60.6,"c":2146},{"k":6,"x":60.3,"c":2138},{"k":6,"x":60.0,"c":2142},{"k":6,"x":59.6,"c":2136},{"k":6,"x":59.2,"c":2140},{"k":6,"x":58.8,"c":2134},{"k":6,"x":58.4,"c":2138},{"k":6,"x":58.0,"c":2132},{"k":6,"x":57.6,"c":2130},{"k":6,"x":57.2,"c":2134},{"k":6,"x":56.8,"c":2128},{"k":6,"x":56.4,"c":2132},{"k":6,"x":56.0,"c":2126},{"k":6,"x":55.6,"c":2130},{"k":6,"x":55.2,"c":2124},{"k":6,"x":54.8,"c":2120},{"k":6,"x":54.4,"c":2118},{"k":6,"x":54.0,"c":2114},{"k":6,"x":53.6,"c":2112},{"k":6,"x":53.2,"c":2108},{"k":6,"x":52.8,"c":2110},{"k":6,"x":52.4,"c":2106},{"k":6,"x":52.0,"c":2103},{"k":6,"x":51.6,"c":2100},{"k":6,"x":51.2,"c":2098},{"k":6,"x":50.8,"c":2096},{"k":6,"x":50.4,"c":2094},{"k":6,"x":50.0,"c":2092},{"k":6,"x":49.6,"c":2088},{"k":6,"x":49.2,"c":2086},{"k":6,"x":48.8,"c":2084},{"k":6,"x":48.4,"c":2082},{"k":6,"x":48.0,"c":2080},{"k":6,"x":47.6,"c":2078},{"k":6,"x":47.2,"c":2076},{"k":6,"x":46.8,"c":2074},{"k":6,"x":46.4,"c":2070},{"k":6,"x":46.0,"c":2072},{"k":6,"x":45.6,"c":2068},{"k":6,"x":45.2,"c":2066},{"k":6,"x":44.8,"c":2064},{"k":6,"x":44.4,"c":2060},{"k":6,"x":44.0,"c":2058}
],
"R4":[
{"k":0,"x":66.6,"c":2153},{"k":0,"x":66.3,"c":2146},{"k":0,"x":66.0,"c":2140},{"k":0,"x":65.7,"c":2128},{"k":0,"x":65.3,"c":2135},{"k":0,"x":64.8,"c":2108},{"k":0,"x":64.4,"c":2120},{"k":0,"x":64.0,"c":2090},{"k":0,"x":63.9,"c":2080},{"k":0,"x":63.6,"c":2115},{"k":0,"x":63.2,"c":2110},{"k":0,"x":62.8,"c":2118},{"k":0,"x":62.5,"c":2091},{"k":0,"x":62.4,"c":2076},{"k":0,"x":62.1,"c":2073},{"k":0,"x":61.8,"c":2112},{"k":0,"x":61.4,"c":2091},{"k":0,"x":61.0,"c":2118},{"k":0,"x":60.6,"c":2115},{"k":0,"x":60.2,"c":2120},{"k":0,"x":59.8,"c":2112},{"k":0,"x":59.4,"c":2108},{"k":0,"x":59.1,"c":2092},{"k":0,"x":58.9,"c":2068},{"k":0,"x":58.7,"c":2084},{"k":0,"x":58.4,"c":2094},{"k":0,"x":58.1,"c":2100},{"k":0,"x":57.8,"c":2080},{"k":0,"x":57.5,"c":2090},{"k":0,"x":57.2,"c":2086},{"k":0,"x":56.9,"c":2098},{"k":0,"x":56.6,"c":2080},{"k":0,"x":56.4,"c":2061},{"k":0,"x":56.1,"c":2090},{"k":0,"x":55.8,"c":2075},{"k":0,"x":55.6,"c":2057},{"k":0,"x":55.3,"c":2095},{"k":0,"x":55.0,"c":2085},{"k":0,"x":54.7,"c":2066},{"k":0,"x":54.4,"c":2090},{"k":0,"x":54.1,"c":2108},{"k":0,"x":53.8,"c":2112},{"k":0,"x":53.4,"c":2105},{"k":0,"x":53.1,"c":2126},{"k":0,"x":52.8,"c":2118},{"k":0,"x":52.5,"c":2110},{"k":0,"x":52.2,"c":2128},{"k":0,"x":51.9,"c":2102},{"k":0,"x":51.6,"c":2120},{"k":0,"x":51.2,"c":2100},{"k":0,"x":50.9,"c":2115},{"k":0,"x":50.5,"c":2135},{"k":0,"x":50.2,"c":2108},{"k":0,"x":49.9,"c":2098},{"k":0,"x":49.6,"c":2105},{"k":0,"x":49.2,"c":2090},{"k":0,"x":48.9,"c":2110},{"k":0,"x":48.6,"c":2095},{"k":0,"x":48.2,"c":2118},{"k":0,"x":47.9,"c":2130},{"k":0,"x":47.6,"c":2090},{"k":0,"x":47.2,"c":2030},{"k":0,"x":46.9,"c":2040},{"k":0,"x":46.6,"c":2018},{"k":0,"x":46.4,"c":2113},{"k":0,"x":46.2,"c":2020},{"k":0,"x":45.9,"c":2040},{"k":0,"x":45.6,"c":2000},{"k":0,"x":45.4,"c":2028},{"k":0,"x":45.1,"c":2022},{"k":0,"x":44.8,"c":2010},{"k":0,"x":44.5,"c":2035},{"k":0,"x":44.4,"c":2130},{"k":0,"x":44.2,"c":2005},{"k":0,"x":44.0,"c":2120},{"k":0,"x":43.9,"c":2000},
{"k":1,"x":66.3,"c":2150},{"k":1,"x":59.2,"c":2103},{"k":1,"x":59.0,"c":2097},{"k":1,"x":58.9,"c":2100},{"k":1,"x":58.8,"c":2095},{"k":1,"x":51.0,"c":2115},{"k":1,"x":49.5,"c":2098},{"k":1,"x":45.0,"c":2070},
{"k":2,"x":66.0,"c":2135},{"k":2,"x":65.5,"c":2128},{"k":2,"x":65.0,"c":2132},{"k":2,"x":64.5,"c":2128},{"k":2,"x":64.1,"c":2165},{"k":2,"x":63.8,"c":2130},{"k":2,"x":63.2,"c":2125},{"k":2,"x":62.6,"c":2130},{"k":2,"x":62.0,"c":2124},{"k":2,"x":61.4,"c":2128},{"k":2,"x":60.8,"c":2122},{"k":2,"x":60.2,"c":2126},{"k":2,"x":59.6,"c":2120},{"k":2,"x":59.0,"c":2124},{"k":2,"x":58.4,"c":2122},{"k":2,"x":57.8,"c":2126},{"k":2,"x":57.2,"c":2120},{"k":2,"x":56.6,"c":2118},{"k":2,"x":56.0,"c":2115},{"k":2,"x":55.4,"c":2112},{"k":2,"x":54.8,"c":2110},{"k":2,"x":54.2,"c":2107},{"k":2,"x":53.6,"c":2100},{"k":2,"x":53.0,"c":2095},{"k":2,"x":52.4,"c":2090},{"k":2,"x":51.8,"c":2085},{"k":2,"x":51.2,"c":2082},{"k":2,"x":50.6,"c":2080},{"k":2,"x":50.0,"c":2078},{"k":2,"x":49.4,"c":2074},{"k":2,"x":48.8,"c":2070},{"k":2,"x":48.2,"c":2066},{"k":2,"x":47.6,"c":2062},{"k":2,"x":47.0,"c":2060},{"k":2,"x":46.4,"c":2058},{"k":2,"x":45.8,"c":2062},{"k":2,"x":45.2,"c":2056},{"k":2,"x":44.6,"c":2058},{"k":2,"x":44.0,"c":2052},
{"k":3,"x":66.0,"c":2130},{"k":3,"x":65.7,"c":2136},{"k":3,"x":65.4,"c":2126},{"k":3,"x":65.1,"c":2132},{"k":3,"x":64.8,"c":2128},{"k":3,"x":64.4,"c":2125},{"k":3,"x":64.0,"c":2130},{"k":3,"x":63.4,"c":2126},{"k":3,"x":62.8,"c":2122},{"k":3,"x":62.2,"c":2126},{"k":3,"x":61.6,"c":2120},{"k":3,"x":61.0,"c":2122},{"k":3,"x":60.4,"c":2118},{"k":3,"x":60.0,"c":2115},{"k":3,"x":59.5,"c":2116},{"k":3,"x":58.8,"c":2118},{"k":3,"x":58.0,"c":2120},{"k":3,"x":57.2,"c":2122},{"k":3,"x":56.6,"c":2119},{"k":3,"x":56.0,"c":2115},{"k":3,"x":55.4,"c":2112},{"k":3,"x":54.6,"c":2110},{"k":3,"x":53.8,"c":2104},{"k":3,"x":53.0,"c":2100},{"k":3,"x":52.2,"c":2098},{"k":3,"x":51.4,"c":2102},{"k":3,"x":50.6,"c":2105},{"k":3,"x":50.0,"c":2110},{"k":3,"x":49.2,"c":2108},{"k":3,"x":48.6,"c":2100},{"k":3,"x":48.0,"c":2085},{"k":3,"x":47.2,"c":2075},{"k":3,"x":46.6,"c":2068},{"k":3,"x":46.0,"c":2062},{"k":3,"x":45.4,"c":2060},{"k":3,"x":44.8,"c":2056},{"k":3,"x":44.2,"c":2058},
{"k":4,"x":66.8,"c":2126},{"k":4,"x":66.7,"c":2134},{"k":4,"x":66.6,"c":2120},{"k":4,"x":66.5,"c":2130},{"k":4,"x":66.4,"c":2124},{"k":4,"x":66.2,"c":2118},{"k":4,"x":65.9,"c":2112},{"k":4,"x":65.6,"c":2118},{"k":4,"x":65.2,"c":2110},{"k":4,"x":64.8,"c":2115},{"k":4,"x":64.4,"c":2112},{"k":4,"x":64.0,"c":2118},{"k":4,"x":63.5,"c":2112},{"k":4,"x":63.0,"c":2120},{"k":4,"x":62.4,"c":2125},{"k":4,"x":61.8,"c":2130},{"k":4,"x":61.2,"c":2135},{"k":4,"x":60.6,"c":2140},{"k":4,"x":60.0,"c":2145},{"k":4,"x":59.4,"c":2148},{"k":4,"x":58.8,"c":2146},{"k":4,"x":58.2,"c":2150},{"k":4,"x":57.6,"c":2152},{"k":4,"x":57.0,"c":2150},{"k":4,"x":56.4,"c":2148},{"k":4,"x":55.8,"c":2146},{"k":4,"x":55.2,"c":2144},{"k":4,"x":54.6,"c":2138},{"k":4,"x":54.3,"c":2142},{"k":4,"x":54.0,"c":2130},{"k":4,"x":53.7,"c":2138},{"k":4,"x":53.4,"c":2126},{"k":4,"x":53.1,"c":2136},{"k":4,"x":52.8,"c":2120},{"k":4,"x":52.5,"c":2132},{"k":4,"x":52.2,"c":2124},{"k":4,"x":51.9,"c":2128},{"k":4,"x":51.6,"c":2118},{"k":4,"x":51.3,"c":2122},{"k":4,"x":51.0,"c":2130},{"k":4,"x":50.7,"c":2115},{"k":4,"x":50.4,"c":2124},{"k":4,"x":50.1,"c":2132},{"k":4,"x":49.8,"c":2112},{"k":4,"x":49.5,"c":2120},{"k":4,"x":49.2,"c":2135},{"k":4,"x":48.9,"c":2128},{"k":4,"x":48.7,"c":2145},{"k":4,"x":48.6,"c":2168},{"k":4,"x":48.5,"c":2178},{"k":4,"x":48.3,"c":2188},{"k":4,"x":48.1,"c":2185},{"k":4,"x":47.9,"c":2196},{"k":4,"x":47.7,"c":2205},{"k":4,"x":47.6,"c":2190},{"k":4,"x":47.4,"c":2198},{"k":4,"x":47.3,"c":2186},{"k":4,"x":47.1,"c":2182},{"k":4,"x":46.9,"c":2176},{"k":4,"x":46.7,"c":2170},{"k":4,"x":46.5,"c":2168},{"k":4,"x":46.3,"c":2162},{"k":4,"x":46.1,"c":2158},{"k":4,"x":45.9,"c":2160},{"k":4,"x":45.7,"c":2152},{"k":4,"x":45.5,"c":2150},{"k":4,"x":45.3,"c":2146},{"k":4,"x":45.1,"c":2142},{"k":4,"x":44.9,"c":2150},{"k":4,"x":44.7,"c":2140},{"k":4,"x":44.5,"c":2145},{"k":4,"x":44.3,"c":2138},{"k":4,"x":44.1,"c":2130},{"k":4,"x":43.9,"c":2126},{"k":4,"x":43.7,"c":2122},{"k":4,"x":47.0,"c":2085},{"k":4,"x":46.2,"c":2058},{"k":4,"x":45.6,"c":2050},{"k":4,"x":45.0,"c":2045},{"k":4,"x":44.6,"c":2040},{"k":4,"x":44.2,"c":2048},{"k":4,"x":43.9,"c":2042},
{"k":5,"x":66.6,"c":2196},{"k":5,"x":66.5,"c":2170},{"k":5,"x":66.3,"c":2160},{"k":5,"x":66.1,"c":2152},{"k":5,"x":65.9,"c":2165},{"k":5,"x":65.6,"c":2150},{"k":5,"x":65.3,"c":2140},{"k":5,"x":65.0,"c":2128},{"k":5,"x":64.6,"c":2124},{"k":5,"x":64.2,"c":2130},{"k":5,"x":63.8,"c":2126},{"k":5,"x":63.4,"c":2122},{"k":5,"x":63.0,"c":2128},{"k":5,"x":62.6,"c":2124},{"k":5,"x":62.2,"c":2120},{"k":5,"x":61.8,"c":2126},{"k":5,"x":61.4,"c":2122},{"k":5,"x":61.0,"c":2118},{"k":5,"x":60.6,"c":2124},{"k":5,"x":60.2,"c":2120},{"k":5,"x":59.8,"c":2116},{"k":5,"x":59.4,"c":2114},{"k":5,"x":59.0,"c":2110},{"k":5,"x":58.6,"c":2112},{"k":5,"x":58.2,"c":2106},{"k":5,"x":57.8,"c":2110},{"k":5,"x":57.4,"c":2104},{"k":5,"x":57.0,"c":2108},{"k":5,"x":56.6,"c":2102},{"k":5,"x":56.2,"c":2106},{"k":5,"x":55.8,"c":2100},{"k":5,"x":55.4,"c":2104},{"k":5,"x":55.0,"c":2098},{"k":5,"x":54.6,"c":2100},{"k":5,"x":54.2,"c":2094},{"k":5,"x":53.8,"c":2096},{"k":5,"x":53.4,"c":2090},{"k":5,"x":53.0,"c":2086},{"k":5,"x":52.6,"c":2092},{"k":5,"x":52.2,"c":2084},{"k":5,"x":51.8,"c":2086},{"k":5,"x":51.4,"c":2080},{"k":5,"x":51.0,"c":2082},{"k":5,"x":50.6,"c":2076},{"k":5,"x":50.2,"c":2078},{"k":5,"x":49.8,"c":2072},{"k":5,"x":49.4,"c":2074},{"k":5,"x":49.0,"c":2068},{"k":5,"x":48.6,"c":2070},{"k":5,"x":48.2,"c":2064},{"k":5,"x":47.8,"c":2060},{"k":5,"x":47.4,"c":2054},{"k":5,"x":47.0,"c":2050},{"k":5,"x":46.6,"c":2052},{"k":5,"x":46.2,"c":2046},{"k":5,"x":45.8,"c":2048},{"k":5,"x":45.4,"c":2042},{"k":5,"x":45.0,"c":2044},{"k":5,"x":44.6,"c":2038},{"k":5,"x":44.2,"c":2040},{"k":5,"x":43.9,"c":2034},
{"k":6,"x":66.2,"c":2100},{"k":6,"x":66.0,"c":2094},{"k":6,"x":65.9,"c":2096},{"k":6,"x":65.4,"c":2128},{"k":6,"x":65.0,"c":2132},{"k":6,"x":64.6,"c":2126},{"k":6,"x":64.2,"c":2134},{"k":6,"x":63.8,"c":2128},{"k":6,"x":63.4,"c":2130},{"k":6,"x":63.0,"c":2124},{"k":6,"x":62.6,"c":2132},{"k":6,"x":62.2,"c":2126},{"k":6,"x":61.8,"c":2128},{"k":6,"x":61.4,"c":2122},{"k":6,"x":61.0,"c":2128},{"k":6,"x":60.6,"c":2124},{"k":6,"x":60.2,"c":2126},{"k":6,"x":59.8,"c":2120},{"k":6,"x":59.4,"c":2124},{"k":6,"x":59.0,"c":2118},{"k":6,"x":58.6,"c":2122},{"k":6,"x":58.2,"c":2120},{"k":6,"x":57.8,"c":2118},{"k":6,"x":57.4,"c":2120},{"k":6,"x":57.0,"c":2116},{"k":6,"x":56.6,"c":2118},{"k":6,"x":56.2,"c":2115},{"k":6,"x":55.8,"c":2112},{"k":6,"x":55.4,"c":2108},{"k":6,"x":55.0,"c":2105},{"k":6,"x":54.6,"c":2100},{"k":6,"x":54.2,"c":2095},{"k":6,"x":53.8,"c":2090},{"k":6,"x":53.4,"c":2085},{"k":6,"x":53.0,"c":2082},{"k":6,"x":52.6,"c":2078},{"k":6,"x":52.3,"c":2076},{"k":6,"x":52.0,"c":2070},{"k":6,"x":51.7,"c":2072},{"k":6,"x":51.4,"c":2068},{"k":6,"x":51.1,"c":2066},{"k":6,"x":50.8,"c":2070},{"k":6,"x":50.4,"c":2068},{"k":6,"x":50.0,"c":2066},{"k":6,"x":49.6,"c":2064},{"k":6,"x":49.2,"c":2066},{"k":6,"x":48.8,"c":2062},{"k":6,"x":48.5,"c":2060},{"k":6,"x":48.2,"c":2052},{"k":6,"x":48.0,"c":2046},{"k":6,"x":47.8,"c":2044},{"k":6,"x":47.6,"c":2050},{"k":6,"x":47.3,"c":2056},{"k":6,"x":47.0,"c":2058},{"k":6,"x":46.6,"c":2060},{"k":6,"x":46.2,"c":2062},{"k":6,"x":45.8,"c":2060},{"k":6,"x":45.4,"c":2064},{"k":6,"x":45.0,"c":2062},{"k":6,"x":44.6,"c":2060},{"k":6,"x":44.2,"c":2064},{"k":6,"x":43.9,"c":2066},
{"k":7,"x":66.0,"c":2194},{"k":7,"x":65.8,"c":2190},{"k":7,"x":65.6,"c":2188},{"k":7,"x":65.4,"c":2180},{"k":7,"x":65.2,"c":2176},{"k":7,"x":65.0,"c":2174},{"k":7,"x":64.8,"c":2170},{"k":7,"x":64.5,"c":2168},{"k":7,"x":64.2,"c":2160},{"k":7,"x":63.9,"c":2156},{"k":7,"x":63.6,"c":2152},{"k":7,"x":63.2,"c":2148},{"k":7,"x":62.8,"c":2145},{"k":7,"x":62.4,"c":2142},{"k":7,"x":62.0,"c":2140},{"k":7,"x":61.6,"c":2146},{"k":7,"x":61.2,"c":2150},{"k":7,"x":60.8,"c":2152},{"k":7,"x":60.4,"c":2148},{"k":7,"x":60.0,"c":2140},{"k":7,"x":59.6,"c":2138},{"k":7,"x":59.2,"c":2135},{"k":7,"x":58.8,"c":2132},{"k":7,"x":58.4,"c":2130},{"k":7,"x":58.0,"c":2128},{"k":7,"x":57.6,"c":2126},{"k":7,"x":57.2,"c":2128},{"k":7,"x":56.8,"c":2124},{"k":7,"x":56.4,"c":2126},{"k":7,"x":56.0,"c":2122},{"k":7,"x":55.6,"c":2124},{"k":7,"x":55.2,"c":2120},{"k":7,"x":54.8,"c":2118},{"k":7,"x":54.4,"c":2116},{"k":7,"x":54.0,"c":2112},{"k":7,"x":53.6,"c":2110},{"k":7,"x":53.2,"c":2108},{"k":7,"x":52.8,"c":2104},{"k":7,"x":52.4,"c":2106},{"k":7,"x":52.0,"c":2102},{"k":7,"x":51.6,"c":2104},{"k":7,"x":51.2,"c":2100},{"k":7,"x":50.8,"c":2098},{"k":7,"x":50.4,"c":2100},{"k":7,"x":50.0,"c":2096},{"k":7,"x":49.6,"c":2092},{"k":7,"x":49.2,"c":2088},{"k":7,"x":48.8,"c":2084},{"k":7,"x":48.4,"c":2080},{"k":7,"x":48.0,"c":2074},{"k":7,"x":47.6,"c":2068},{"k":7,"x":47.2,"c":2064},{"k":7,"x":46.8,"c":2062},{"k":7,"x":46.4,"c":2058},{"k":7,"x":46.0,"c":2060},{"k":7,"x":45.6,"c":2056},{"k":7,"x":45.2,"c":2058},{"k":7,"x":44.8,"c":2054},{"k":7,"x":44.4,"c":2056},{"k":7,"x":44.0,"c":2052},
{"k":8,"x":66.4,"c":2150},{"k":8,"x":66.0,"c":2142},{"k":8,"x":65.6,"c":2138},{"k":8,"x":65.2,"c":2135},{"k":8,"x":64.8,"c":2140},{"k":8,"x":64.4,"c":2136},{"k":8,"x":64.0,"c":2130},{"k":8,"x":63.6,"c":2134},{"k":8,"x":63.2,"c":2130},{"k":8,"x":62.8,"c":2136},{"k":8,"x":62.4,"c":2132},{"k":8,"x":62.0,"c":2138},{"k":8,"x":61.6,"c":2134},{"k":8,"x":61.2,"c":2140},{"k":8,"x":60.8,"c":2136},{"k":8,"x":60.4,"c":2142},{"k":8,"x":60.0,"c":2138},{"k":8,"x":59.6,"c":2140},{"k":8,"x":59.2,"c":2136},{"k":8,"x":58.8,"c":2138},{"k":8,"x":58.4,"c":2134},{"k":8,"x":58.0,"c":2136},{"k":8,"x":57.6,"c":2132},{"k":8,"x":57.2,"c":2134},{"k":8,"x":56.8,"c":2130},{"k":8,"x":56.4,"c":2132},{"k":8,"x":56.0,"c":2128},{"k":8,"x":55.6,"c":2130},{"k":8,"x":55.2,"c":2126},{"k":8,"x":54.8,"c":2124},{"k":8,"x":54.4,"c":2120},{"k":8,"x":54.0,"c":2118},{"k":8,"x":53.6,"c":2115},{"k":8,"x":53.2,"c":2112},{"k":8,"x":52.8,"c":2114},{"k":8,"x":52.4,"c":2110},{"k":8,"x":52.0,"c":2108},{"k":8,"x":51.6,"c":2110},{"k":8,"x":51.2,"c":2106},{"k":8,"x":50.8,"c":2104},{"k":8,"x":50.4,"c":2100},{"k":8,"x":50.0,"c":2098},{"k":8,"x":49.6,"c":2096},{"k":8,"x":49.2,"c":2092},{"k":8,"x":48.8,"c":2090},{"k":8,"x":48.4,"c":2088},{"k":8,"x":48.0,"c":2090},{"k":8,"x":47.6,"c":2084},{"k":8,"x":47.2,"c":2080},{"k":8,"x":46.8,"c":2076},{"k":8,"x":46.4,"c":2072},{"k":8,"x":46.0,"c":2074},{"k":8,"x":45.6,"c":2070},{"k":8,"x":45.2,"c":2068},{"k":8,"x":44.8,"c":2066},{"k":8,"x":44.4,"c":2062},{"k":8,"x":44.0,"c":2060},
{"k":9,"x":65.5,"c":2118},{"k":9,"x":65.3,"c":2112},{"k":9,"x":65.1,"c":2108},{"k":9,"x":64.9,"c":2112},{"k":9,"x":64.7,"c":2122},{"k":9,"x":64.4,"c":2148},{"k":9,"x":64.1,"c":2160},{"k":9,"x":63.8,"c":2155},{"k":9,"x":63.5,"c":2162},{"k":9,"x":63.2,"c":2150},{"k":9,"x":62.9,"c":2156},{"k":9,"x":62.6,"c":2160},{"k":9,"x":62.3,"c":2152},{"k":9,"x":62.0,"c":2158},{"k":9,"x":61.7,"c":2150},{"k":9,"x":61.4,"c":2156},{"k":9,"x":61.1,"c":2152},{"k":9,"x":60.8,"c":2158},{"k":9,"x":60.5,"c":2162},{"k":9,"x":60.2,"c":2160},{"k":9,"x":59.9,"c":2165},{"k":9,"x":59.6,"c":2158},{"k":9,"x":59.3,"c":2155},{"k":9,"x":59.0,"c":2150},{"k":9,"x":58.7,"c":2154},{"k":9,"x":58.4,"c":2150},{"k":9,"x":58.1,"c":2152},{"k":9,"x":57.8,"c":2148},{"k":9,"x":57.5,"c":2150},{"k":9,"x":57.2,"c":2146},{"k":9,"x":56.9,"c":2150},{"k":9,"x":56.6,"c":2146},{"k":9,"x":56.3,"c":2148},{"k":9,"x":56.0,"c":2144},{"k":9,"x":55.7,"c":2146},{"k":9,"x":55.4,"c":2142},{"k":9,"x":55.1,"c":2140},{"k":9,"x":54.8,"c":2136},{"k":9,"x":54.4,"c":2132},{"k":9,"x":54.0,"c":2128},{"k":9,"x":53.6,"c":2124},{"k":9,"x":53.2,"c":2120},{"k":9,"x":52.8,"c":2116},{"k":9,"x":52.4,"c":2112},{"k":9,"x":52.0,"c":2108},{"k":9,"x":51.6,"c":2106},{"k":9,"x":51.2,"c":2104},{"k":9,"x":50.8,"c":2100},{"k":9,"x":50.4,"c":2098},{"k":9,"x":50.0,"c":2094},{"k":9,"x":49.6,"c":2090},{"k":9,"x":49.2,"c":2088},{"k":9,"x":48.8,"c":2086},{"k":9,"x":48.4,"c":2084},{"k":9,"x":48.0,"c":2082},{"k":9,"x":47.6,"c":2080},{"k":9,"x":47.2,"c":2078},{"k":9,"x":46.8,"c":2076},{"k":9,"x":46.4,"c":2074},{"k":9,"x":46.0,"c":2076},{"k":9,"x":45.6,"c":2072},{"k":9,"x":45.2,"c":2074},{"k":9,"x":44.8,"c":2070},{"k":9,"x":44.4,"c":2072},{"k":9,"x":44.0,"c":2076},
{"k":10,"x":65.2,"c":2160},{"k":10,"x":64.9,"c":2155},{"k":10,"x":64.6,"c":2150},{"k":10,"x":64.3,"c":2146},{"k":10,"x":64.0,"c":2148},{"k":10,"x":63.7,"c":2142},{"k":10,"x":63.4,"c":2146},{"k":10,"x":63.1,"c":2140},{"k":10,"x":62.8,"c":2145},{"k":10,"x":62.5,"c":2140},{"k":10,"x":62.2,"c":2146},{"k":10,"x":61.9,"c":2142},{"k":10,"x":61.6,"c":2140},{"k":10,"x":61.3,"c":2145},{"k":10,"x":61.0,"c":2140},{"k":10,"x":60.7,"c":2144},{"k":10,"x":60.4,"c":2138},{"k":10,"x":60.1,"c":2142},{"k":10,"x":59.8,"c":2140},{"k":10,"x":59.5,"c":2144},{"k":10,"x":59.2,"c":2140},{"k":10,"x":58.9,"c":2138},{"k":10,"x":58.6,"c":2140},{"k":10,"x":58.3,"c":2136},{"k":10,"x":58.0,"c":2138},{"k":10,"x":57.7,"c":2134},{"k":10,"x":57.4,"c":2136},{"k":10,"x":57.1,"c":2132},{"k":10,"x":56.8,"c":2135},{"k":10,"x":56.5,"c":2132},{"k":10,"x":56.2,"c":2134},{"k":10,"x":55.9,"c":2130},{"k":10,"x":55.6,"c":2132},{"k":10,"x":55.3,"c":2128},{"k":10,"x":55.0,"c":2126},{"k":10,"x":54.6,"c":2122},{"k":10,"x":54.2,"c":2118},{"k":10,"x":53.8,"c":2116},{"k":10,"x":53.4,"c":2120},{"k":10,"x":53.0,"c":2122},{"k":10,"x":52.6,"c":2118},{"k":10,"x":52.2,"c":2120},{"k":10,"x":51.8,"c":2112},{"k":10,"x":51.4,"c":2108},{"k":10,"x":51.0,"c":2104},{"k":10,"x":50.6,"c":2100},{"k":10,"x":50.2,"c":2098},{"k":10,"x":49.8,"c":2094},{"k":10,"x":49.4,"c":2090},{"k":10,"x":49.0,"c":2088},{"k":10,"x":48.6,"c":2084},{"k":10,"x":48.2,"c":2080},{"k":10,"x":47.8,"c":2076},{"k":10,"x":47.4,"c":2072},{"k":10,"x":47.0,"c":2070},{"k":10,"x":46.6,"c":2068},{"k":10,"x":46.2,"c":2066},{"k":10,"x":45.8,"c":2064},{"k":10,"x":45.4,"c":2062},{"k":10,"x":45.0,"c":2060},{"k":10,"x":44.6,"c":2062},{"k":10,"x":44.2,"c":2058},{"k":10,"x":43.9,"c":2060}
]
},
"spacing":24,
"bounds":"flush",
"resolve":{"scale":{"x":"independent","y":"independent","color":"shared","fill":"shared"}},
"vconcat":[
{"width":424,"height":48,
 "layer":[
  {"data":{"name":"bracket"},"mark":{"type":"rule","color":"black","strokeWidth":2},
   "encoding":{"x":{"field":"x0","type":"quantitative","scale":{"domain":[43,68],"reverse":true,"nice":false,"zero":false},"axis":null},"x2":{"field":"x1"},
   "y":{"field":"t0","type":"quantitative","scale":{"domain":[1,4],"nice":false,"zero":false},"axis":null},"y2":{"field":"t1"}}},
  {"data":{"name":"zones"},"mark":{"type":"text","fontSize":20,"fontWeight":"bold","color":"black","baseline":"middle","font":"Liberation Sans","dy":1},
   "encoding":{"x":{"field":"x","type":"quantitative"},"y":{"field":"t","type":"quantitative"},"text":{"field":"name"}}},
  {"data":{"name":"regions"},"mark":{"type":"text","fontSize":20,"fontWeight":"bold","color":"black","baseline":"middle","font":"Liberation Sans","dy":-3},
   "encoding":{"x":{"field":"x","type":"quantitative"},"y":{"field":"t","type":"quantitative"},"text":{"field":"name"}}}
 ]},
{"width":424,"height":303,
 "layer":[
  {"data":{"name":"R0"},"transform":[{"lookup":"k","from":{"data":{"name":"years"},"key":"k","fields":["season"]}},{"filter":"datum.k < 8"}],
   "mark":{"type":"circle","size":28,"opacity":1,"clip":true},
   "encoding":{
    "x":{"field":"x","type":"quantitative","scale":{"domain":[43,68],"reverse":true,"nice":false,"zero":false},"axis":{"values":[44,48,52,56,60,64,68],"labels":false,"title":null,"grid":true,"labelOverlap":false}},
    "y":{"field":"c","type":"quantitative","scale":{"domain":[1950,2299],"nice":false,"zero":false},"axis":{"values":[1950,1990,2030,2070,2110,2150,2190,2230,2270],"format":"d","title":"Cₜ(µmol.kg⁻¹) - R0","titlePadding":34,"labelPadding":10,"grid":true,"labelOverlap":false,"labelFlush":false}},
    "color":{"field":"season","type":"nominal","scale":{"domain":["2002/2003","2003/2004","2004/2005","2005/2006","2006/2007","2007/2008","2008/2009","2009/2010"],"range":["#000000","#0a0ae6","#22f022","#ee1111","#ff1aff","#1ab0e0","#84c11e","#7d1c0c"]},
     "legend":{"legendX":-135,"legendY":1092,"columns":4}}}},
  {"data":{"name":"R0"},"transform":[{"lookup":"k","from":{"data":{"name":"years"},"key":"k","fields":["season"]}},{"filter":"datum.k >= 8"}],
   "mark":{"type":"circle","size":28,"opacity":1,"clip":true},
   "encoding":{
    "x":{"field":"x","type":"quantitative","axis":{"values":[44,48,52,56,60,64,68],"labels":false,"title":null,"grid":true,"labelOverlap":false}},
    "y":{"field":"c","type":"quantitative","axis":{"values":[1950,1990,2030,2070,2110,2150,2190,2230,2270],"format":"d","title":"Cₜ(µmol.kg⁻¹) - R0","titlePadding":34,"labelPadding":10,"grid":true,"labelOverlap":false,"labelFlush":false}},
    "fill":{"field":"season","type":"nominal","scale":{"domain":["2010/2011","2011/2012","2012/2013"],"range":["#a43bb0","#8585b8","#f7c4de"]},
     "legend":{"legendX":-82,"legendY":1146,"columns":3}}}},
  {"data":{"name":"fronts"},"mark":{"type":"rule","color":"#3cd83c","strokeWidth":2},"encoding":{"x":{"field":"x","type":"quantitative"}}}
 ]},
{"width":424,"height":303,
 "layer":[
  {"data":{"name":"R2"},"transform":[{"lookup":"k","from":{"data":{"name":"years"},"key":"k","fields":["season"]}}],
   "mark":{"type":"circle","size":28,"opacity":1,"clip":true},
   "encoding":{
    "x":{"field":"x","type":"quantitative","scale":{"domain":[43,68],"reverse":true,"nice":false,"zero":false},"axis":{"values":[44,48,52,56,60,64,68],"labels":false,"title":null,"grid":true,"labelOverlap":false}},
    "y":{"field":"c","type":"quantitative","scale":{"domain":[1950,2299],"nice":false,"zero":false},"axis":{"values":[1950,1990,2030,2070,2110,2150,2190,2230,2270],"format":"d","title":"Cₜ(µmol.kg⁻¹) - R2","titlePadding":34,"labelPadding":10,"grid":true,"labelOverlap":false,"labelFlush":false}},
    "color":{"field":"season","type":"nominal"}}},
  {"data":{"name":"fronts"},"mark":{"type":"rule","color":"#3cd83c","strokeWidth":2},"encoding":{"x":{"field":"x","type":"quantitative"}}}
 ]},
{"width":424,"height":303,
 "layer":[
  {"data":{"name":"R4"},"transform":[{"lookup":"k","from":{"data":{"name":"years"},"key":"k","fields":["season"]}},{"filter":"datum.k < 8"}],
   "mark":{"type":"circle","size":28,"opacity":1,"clip":true},
   "encoding":{
    "x":{"field":"x","type":"quantitative","scale":{"domain":[43,68],"reverse":true,"nice":false,"zero":false},"axis":{"values":[44,48,52,56,60,64,68],"labelExpr":"datum.value + '°S'","title":null,"grid":true,"labelPadding":11,"labelFontSize":24,"labelOverlap":false,"labelFlush":false}},
    "y":{"field":"c","type":"quantitative","scale":{"domain":[1950,2299],"nice":false,"zero":false},"axis":{"values":[1950,1990,2030,2070,2110,2150,2190,2230,2270],"format":"d","title":"Cₜ(µmol.kg⁻¹) - R4","titlePadding":34,"labelPadding":10,"grid":true,"labelOverlap":false,"labelFlush":false}},
    "color":{"field":"season","type":"nominal"}}},
  {"data":{"name":"R4"},"transform":[{"lookup":"k","from":{"data":{"name":"years"},"key":"k","fields":["season"]}},{"filter":"datum.k >= 8"}],
   "mark":{"type":"circle","size":28,"opacity":1,"clip":true},
   "encoding":{
    "x":{"field":"x","type":"quantitative","axis":{"values":[44,48,52,56,60,64,68],"labelExpr":"datum.value + '°S'","title":null,"grid":true,"labelPadding":11,"labelFontSize":24,"labelOverlap":false,"labelFlush":false}},
    "y":{"field":"c","type":"quantitative","axis":{"values":[1950,1990,2030,2070,2110,2150,2190,2230,2270],"format":"d","title":"Cₜ(µmol.kg⁻¹) - R4","titlePadding":34,"labelPadding":10,"grid":true,"labelOverlap":false,"labelFlush":false}},
    "fill":{"field":"season","type":"nominal"}}},
  {"data":{"name":"fronts"},"mark":{"type":"rule","color":"#3cd83c","strokeWidth":2},"encoding":{"x":{"field":"x","type":"quantitative"}}}
 ]}
]
}
